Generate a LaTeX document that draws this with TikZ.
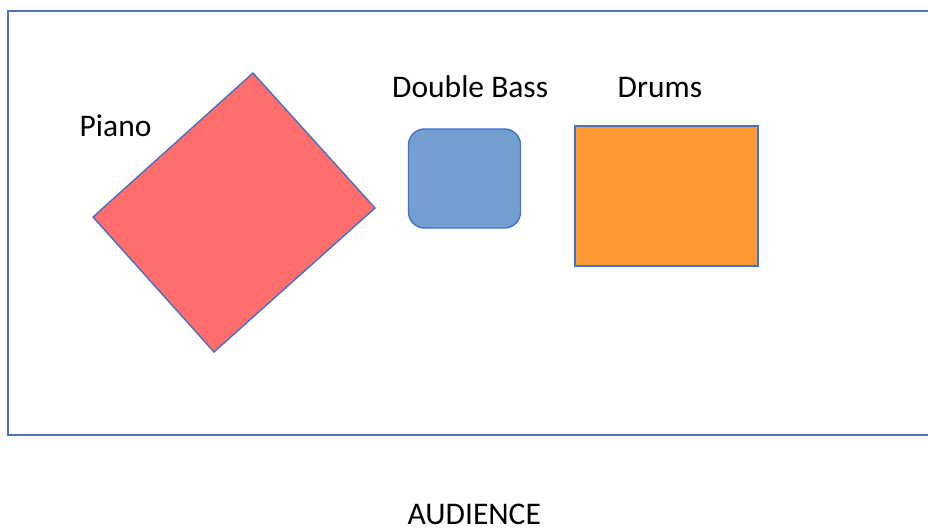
\documentclass[tikz,border=0pt]{standalone}
\usepackage{fontspec}
\setmainfont{Carlito}
\definecolor{edgeblue}{HTML}{4472C4}
\definecolor{framecol}{HTML}{4A74B4}
\definecolor{pianored}{HTML}{FF6D6D}
\definecolor{bassblue}{HTML}{729FD0}
\definecolor{drumorange}{HTML}{FF9830}
\begin{document}
\begin{tikzpicture}[x=1pt,y=-1pt,
  lbl/.style={font=\fontsize{31.5}{36}\selectfont, text=black, inner sep=0pt, anchor=base west},
  shapeedge/.style={draw=edgeblue, line width=1.4pt}]
\useasboundingbox (0,0) rectangle (928,528);
\clip (0,0) rectangle (928,528);
\fill[white] (0,0) rectangle (928,528);
% stage frame
\draw[framecol, line width=2pt] (940,11) -- (8,11) -- (8,435) -- (940,435);
% piano
\coordinate (pt) at (253,73);
\coordinate (pr) at (375,208);
\coordinate (pb) at (214,352);
\coordinate (pl) at (93,217);
\filldraw[shapeedge, fill=pianored] (pt) -- (pr) -- (pb) -- (pl) -- cycle;
% double bass
\node[shapeedge, fill=bassblue, rounded corners=16pt, minimum width=112pt, minimum height=99pt, inner sep=0pt] (bass) at (464.5,178.5) {};
% drums
\node[shapeedge, fill=drumorange, minimum width=183pt, minimum height=140pt, inner sep=0pt] (drums) at (666.5,196) {};
% labels
\node[lbl] (pianolbl) at (79.5,136) {Piano};
\node[lbl] (basslbl) at (392,97) {Double Bass};
\node[lbl] (drumslbl) at (617.5,97) {Drums};
\node[lbl] (audience) at (407.5,524) {AUDIENCE};
\end{tikzpicture}
\end{document}
